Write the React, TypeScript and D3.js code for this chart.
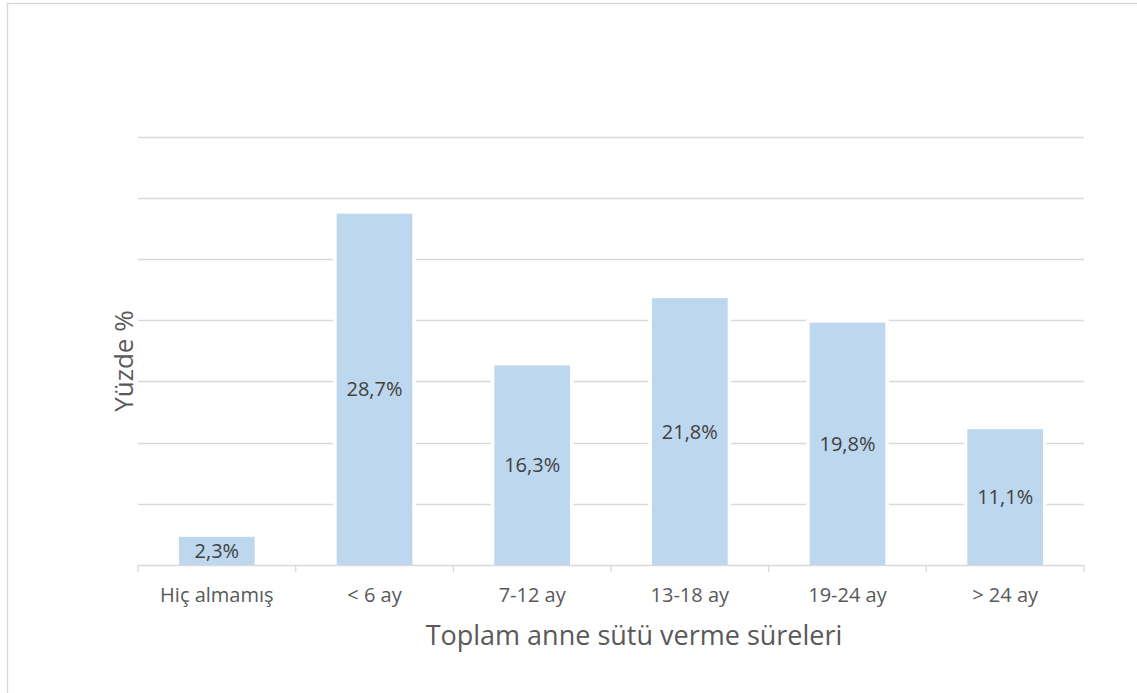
import React from "react";
import * as d3 from "d3";

const categories = ["Hiç almamış", "< 6 ay", "7-12 ay", "13-18 ay", "19-24 ay", "> 24 ay"];
const values = [2.3, 28.7, 16.3, 21.8, 19.8, 11.1];
const valueLabels = ["2,3%", "28,7%", "16,3%", "21,8%", "19,8%", "11,1%"];
const yTicks = [0, 5, 10, 15, 20, 25, 30, 35];
const xTitle = "Toplam anne sütü verme süreleri";
const yTitle = "Yüzde %";

const W = 1137;
const H = 693;
const left = 138;
const right = 1084;
const top = 136.5;
const bottom = 565;
const FONT = "'Open Sans', 'DejaVu Sans', sans-serif";
const TEXT = "#595959";

export default function App() {
  const x = d3.scaleBand<string>().domain(categories).range([left, right]).paddingInner(0.52).paddingOuter(0.26);
  const y = d3.scaleLinear().domain([0, 35]).range([bottom, top]);
  const bw = x.bandwidth();
  const step = (right - left) / categories.length;
  const tickXs = d3.range(categories.length + 1).map((i) => left + i * step);

  return (
    <svg width={W} height={H} style={{ position: "absolute", left: 0, top: 0, background: "#fff" }}>
      <rect x={7.5} y={3.5} width={W + 10} height={H + 10} fill="#fff" stroke="#d9d9d9" strokeWidth={1.5} />
      {yTicks.slice(1).map((t) => (
        <line key={t} x1={left} x2={right} y1={Math.round(y(t)) + 0.5} y2={Math.round(y(t)) + 0.5} stroke="#d9d9d9" strokeWidth={1.3} />
      ))}
      {categories.map((c, i) => (
        <rect
          key={c}
          x={x(c)!}
          y={y(values[i])}
          width={bw}
          height={bottom - y(values[i])}
          fill="#bdd7ee"
          stroke="#fff"
          strokeWidth={7}
          style={{ paintOrder: "stroke" }}
        />
      ))}
      <line x1={left} x2={right} y1={bottom + 0.5} y2={bottom + 0.5} stroke="#d9d9d9" strokeWidth={1.3} />
      {tickXs.map((tx, i) => (
        <line key={i} x1={tx} x2={tx} y1={bottom} y2={bottom + 7} stroke="#d9d9d9" strokeWidth={1.3} />
      ))}
      {categories.map((c, i) => (
        <text
          key={c}
          x={x(c)! + bw / 2}
          y={(y(values[i]) + bottom) / 2}
          dy="0.35em"
          textAnchor="middle"
          fontFamily={FONT}
          fontSize={20}
          fill="#404040"
        >
          {valueLabels[i]}
        </text>
      ))}
      {categories.map((c) => (
        <text key={c} x={x(c)! + bw / 2} y={602} textAnchor="middle" fontFamily={FONT} fontSize={20} fill={TEXT}>
          {c}
        </text>
      ))}
      <text x={634} y={645} textAnchor="middle" fontFamily={FONT} fontSize={27} fill={TEXT}>
        {xTitle}
      </text>
      <text
        transform={`translate(133, 361) rotate(-90)`}
        textAnchor="middle"
        fontFamily={FONT}
        fontSize={26}
        fill={TEXT}
      >
        {yTitle}
      </text>
    </svg>
  );
}
